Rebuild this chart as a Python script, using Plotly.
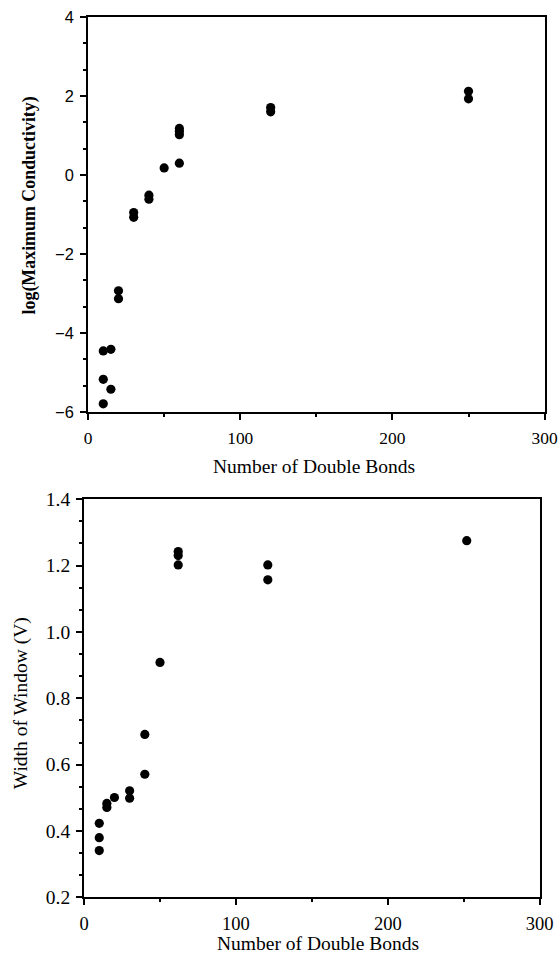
import plotly.graph_objects as go

# Top panel: log(maximum conductivity) vs number of double bonds
top_x = [10, 10, 10, 15, 15, 20, 20, 30, 30, 40, 40, 50, 60, 60, 60, 60, 120, 120, 250, 250]
top_y = [-4.45, -5.17, -5.79, -4.41, -5.42, -2.93, -3.13, -0.95, -1.07, -0.51, -0.61, 0.18,
         0.30, 1.02, 1.10, 1.18, 1.71, 1.60, 2.12, 1.93]

# Bottom panel: width of window vs number of double bonds
bot_x = [10, 10, 10, 15, 15, 20, 30, 30, 40, 40, 50, 62, 62, 62, 121, 121, 252]
bot_y = [0.423, 0.380, 0.341, 0.483, 0.471, 0.501, 0.521, 0.499, 0.691, 0.571, 0.908,
         1.242, 1.230, 1.202, 1.202, 1.157, 1.275]

x_ticks = [0, 100, 200, 300]
top_y_ticks = [-6, -4, -2, 0, 2, 4]
bot_y_ticks = [0.2, 0.4, 0.6, 0.8, 1.0, 1.2, 1.4]
bot_y_labels = ["0.2", "0.4", "0.6", "0.8", "1.0", "1.2", "1.4"]

# figure canvas; target positions are given in screenshot pixels and mapped
# through the observed capture scale (about 0.972 x 0.978 with a small offset)
W, H = 572, 972
SX, OX = 0.972, 2.5
SY, OY = 0.978, 9.0
FS = 1 / 0.975  # font compensation


def px(x):
    return ((x - OX) / SX) / W


def py(y):
    return 1 - ((y - OY) / SY) / H


def f(size):
    return round(size * FS, 1)


SERIF = "Liberation Serif, Times New Roman, serif"
SANS = "Liberation Sans, Arial, sans-serif"

fig = go.Figure()
fig.add_trace(go.Scatter(x=top_x, y=top_y, mode="markers", xaxis="x", yaxis="y",
                         marker=dict(color="black", size=9.2), showlegend=False))
fig.add_trace(go.Scatter(x=bot_x, y=bot_y, mode="markers", xaxis="x2", yaxis="y2",
                         marker=dict(color="black", size=9.2), showlegend=False))

axis_common = dict(showline=True, linecolor="black", linewidth=2, mirror=True,
                   ticks="outside", tickcolor="black", tickwidth=1.5, ticklen=6,
                   showgrid=False, zeroline=False, ticklabeloverflow="allow")
minor_common = dict(ticks="outside", ticklen=3, tickcolor="black", tickwidth=1.5)

fig.update_layout(
    width=W, height=H,
    margin=dict(l=0, r=0, t=0, b=0),
    paper_bgcolor="white", plot_bgcolor="white",
    xaxis=dict(domain=[px(86), px(545)], range=[0, 300], tickvals=x_ticks,
               anchor="y", tickfont=dict(family=SERIF, size=f(17), color="black"),
               ticklabelstandoff=3,
               minor=dict(dtick=50, **minor_common), **axis_common),
    yaxis=dict(domain=[py(411), py(16)], range=[-6, 4], tickvals=top_y_ticks,
               anchor="x", tickfont=dict(family=SANS, size=f(16), color="black"),
               ticklabelstandoff=3,
               minor=dict(tick0=0, dtick=2 / 3, **minor_common), **axis_common),
    xaxis2=dict(domain=[px(82), px(540)], range=[0, 300], tickvals=x_ticks,
                anchor="y2", tickfont=dict(family=SERIF, size=f(18), color="black"),
                ticklabelstandoff=2,
                minor=dict(dtick=50, **minor_common), **axis_common),
    yaxis2=dict(domain=[py(896), py(498)], range=[0.2, 1.4], tickvals=bot_y_ticks,
                ticktext=bot_y_labels, anchor="x2",
                tickfont=dict(family=SERIF, size=f(19), color="black"),
                ticklabelstandoff=2,
                minor=dict(tick0=0.2, dtick=0.2 / 3, **minor_common), **axis_common),
)

fig.add_annotation(text="Number of Double Bonds", xref="paper", yref="paper",
                   x=px(313), y=py(465), showarrow=False,
                   font=dict(family=SERIF, size=f(19), color="black"),
                   xanchor="center", yanchor="middle")
fig.add_annotation(text="Number of Double Bonds", xref="paper", yref="paper",
                   x=px(317), y=py(942), showarrow=False,
                   font=dict(family=SERIF, size=f(19), color="black"),
                   xanchor="center", yanchor="middle")
fig.add_annotation(text="<b>log(Maximum Conductivity)</b>", xref="paper", yref="paper",
                   x=px(27), y=py(204), showarrow=False, textangle=-90,
                   font=dict(family=SERIF, size=f(17.5), color="black"),
                   xanchor="center", yanchor="middle")
fig.add_annotation(text="Width of Window (V)", xref="paper", yref="paper",
                   x=px(18.5), y=py(702), showarrow=False, textangle=-90,
                   font=dict(family=SERIF, size=f(19), color="black"),
                   xanchor="center", yanchor="middle")

fig.write_html("out.html")
